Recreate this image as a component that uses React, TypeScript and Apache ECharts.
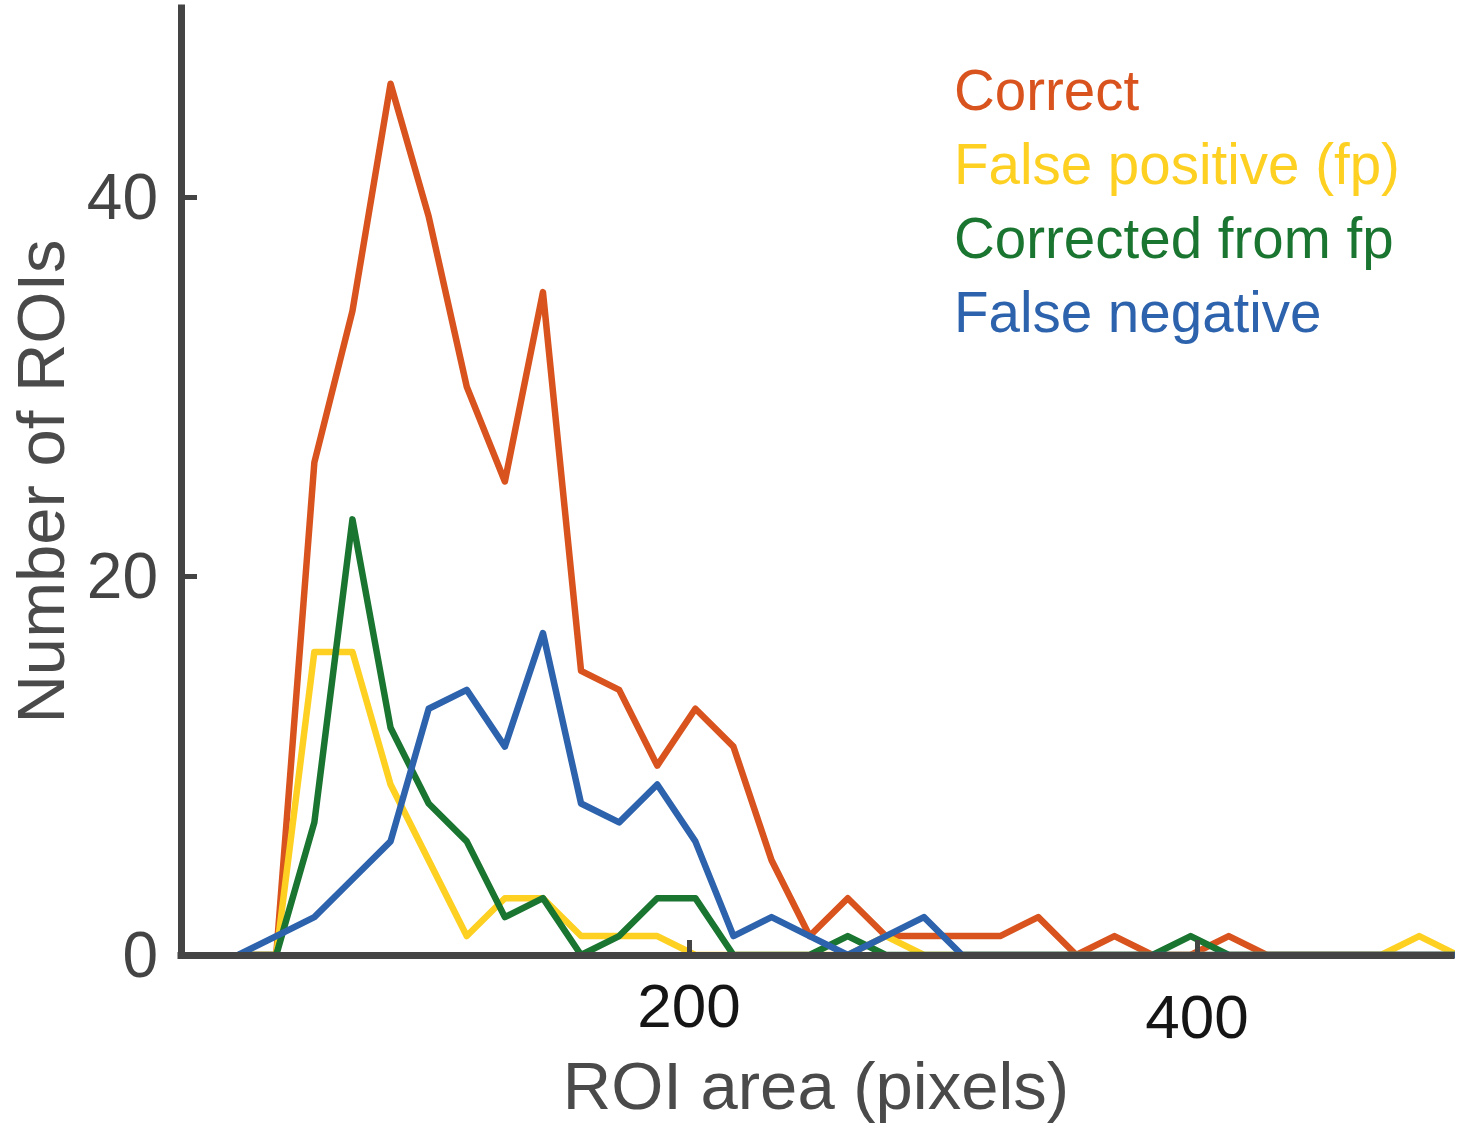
import React, { useEffect, useRef } from "react";
import * as echarts from "echarts";

// Bin centres of the ROI-area histogram (pixels)
const binCenters = [
  22.5, 37.5, 52.5, 67.5, 82.5, 97.5, 112.5, 127.5, 142.5, 157.5, 172.5,
  187.5, 202.5, 217.5, 232.5, 247.5, 262.5, 277.5, 292.5, 307.5, 322.5,
  337.5, 352.5, 367.5, 382.5, 397.5, 412.5, 427.5, 442.5, 457.5, 472.5,
  487.5, 502.5,
];

const correct = [
  0, 0, 26, 34, 46, 39, 30, 25, 35, 15, 14, 10, 13, 11, 5, 1, 3, 1, 1, 1, 1,
  2, 0, 1, 0, 0, 1, 0, 0, 0, 0, 0, 0,
];
const falsePositive = [
  0, 0, 16, 16, 9, 5, 1, 3, 3, 1, 1, 1, 0, 0, 0, 0, 0, 1, 0, 0, 0, 0, 0, 0,
  0, 0, 0, 0, 0, 0, 0, 1, 0,
];
const correctedFromFp = [
  0, 0, 7, 23, 12, 8, 6, 2, 3, 0, 1, 3, 3, 0, 0, 0, 1, 0, 0, 0, 0, 0, 0, 0,
  0, 1, 0, 0, 0, 0, 0, 0, 0,
];
const falseNegative = [
  0, 1, 2, 4, 6, 13, 14, 11, 17, 8, 7, 9, 6, 1, 2, 1, 0, 1, 2, 0, 0, 0, 0, 0,
  0, 0, 0, 0, 0, 0, 0, 0, 0,
];

const seriesNames = [
  "Correct",
  "False positive (fp)",
  "Corrected from fp",
  "False negative",
];
const seriesValues = [correct, falsePositive, correctedFromFp, falseNegative];
const seriesColors = ["#D9531E", "#FDD022", "#1A7530", "#2D62AD"];

const xTickValues = [200, 400];
const yTickValues = [0, 20, 40];

const FONT = "Liberation Sans, Arial, sans-serif";
const AXIS_COLOR = "#444444";

export default function App() {
  const ref = useRef<HTMLDivElement>(null);

  useEffect(() => {
    if (!ref.current) return;
    const chart = echarts.init(ref.current, undefined, { renderer: "svg" });

    const option: any = {
      animation: false,
      backgroundColor: "#ffffff",
      grid: {
        left: 181,
        right: 10,
        top: 8,
        bottom: 168,
        containLabel: false,
        outerBoundsMode: "none",
      },
      legend: {
        show: true,
        orient: "vertical",
        left: 949,
        top: 62,
        padding: 0,
        itemGap: 17,
        itemWidth: 0,
        itemHeight: 0,
        icon: "none",
        selectedMode: false,
        textStyle: { fontFamily: FONT, fontSize: 56.5, lineHeight: 57 },
        data: seriesNames.map((n, i) => ({
          name: n,
          icon: "none",
          textStyle: { color: seriesColors[i] },
        })),
      },
      xAxis: {
        type: "value",
        min: 0,
        max: 500,
        z: 10,
        name: "ROI area (pixels)",
        nameLocation: "middle",
        nameGap: 95,
        nameTextStyle: {
          fontFamily: FONT,
          fontSize: 67,
          lineHeight: 60,
          color: "#4a4a4a",
        },
        axisLine: {
          show: true,
          lineStyle: { color: AXIS_COLOR, width: 7, cap: "square" },
        },
        axisTick: {
          show: true,
          inside: true,
          length: 15,
          customValues: xTickValues,
          lineStyle: { color: AXIS_COLOR, width: 5 },
        },
        axisLabel: {
          show: true,
          customValues: xTickValues,
          margin: 19,
          fontFamily: FONT,
          fontSize: 62,
          color: "#151515",
          formatter: (v: number) => (v === 400 ? "{b|" + v + "}" : "{a|" + v + "}"),
          rich: {
            a: { fontFamily: FONT, fontSize: 62, color: "#151515", lineHeight: 62 },
            b: { fontFamily: FONT, fontSize: 62, color: "#151515", lineHeight: 84 },
          },
        },
        splitLine: { show: false },
      },
      yAxis: {
        type: "value",
        min: 0,
        max: 50,
        z: 10,
        name: "Number of ROIs",
        nameLocation: "middle",
        nameGap: 111,
        nameTextStyle: {
          fontFamily: FONT,
          fontSize: 67,
          lineHeight: 60,
          color: "#4a4a4a",
        },
        axisLine: {
          show: true,
          lineStyle: { color: AXIS_COLOR, width: 7, cap: "square" },
        },
        axisTick: {
          show: true,
          inside: true,
          length: 16,
          customValues: yTickValues,
          lineStyle: { color: AXIS_COLOR, width: 5 },
        },
        axisLabel: {
          show: true,
          customValues: yTickValues,
          margin: 23,
          fontFamily: FONT,
          fontSize: 64,
          color: "#444444",
        },
        splitLine: { show: false },
      },
      series: seriesNames.map((n, i) => ({
        name: n,
        type: "line",
        data: binCenters.map((x, j) => [x, seriesValues[i][j]]),
        showSymbol: false,
        symbol: "none",
        clip: true,
        color: seriesColors[i],
        lineStyle: { color: seriesColors[i], width: 6.5, join: "round" },
        emphasis: { disabled: true },
      })),
    };

    chart.setOption(option);
    return () => chart.dispose();
  }, []);

  return (
    <div
      ref={ref}
      style={{
        position: "fixed",
        left: 0,
        top: 0,
        width: 1461,
        height: 1123,
        background: "#ffffff",
      }}
    />
  );
}
